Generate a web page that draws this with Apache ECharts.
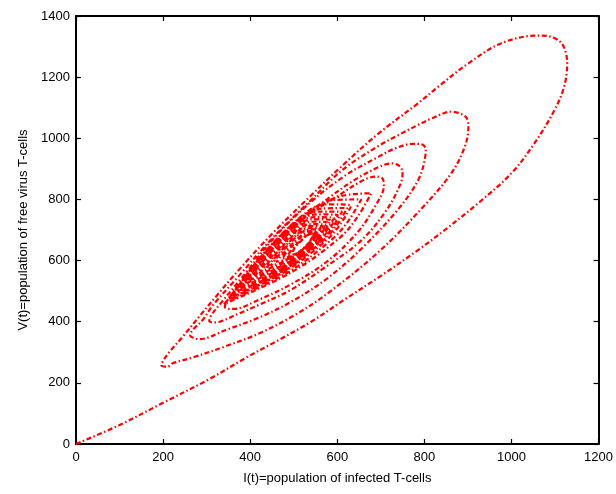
<!DOCTYPE html>
<html>
<head>
<meta charset="utf-8">
<script src="https://cdn.jsdelivr.net/npm/echarts@6/dist/echarts.min.js"></script>
<style>
html,body{margin:0;padding:0;background:#fff;}
#chart{width:616px;height:494px;}
</style>
</head>
<body>
<div id="chart"></div>
<script>
// Axis ticks
const xTicks = [0, 200, 400, 600, 800, 1000, 1200];
const yTicks = [0, 200, 400, 600, 800, 1000, 1200, 1400];

// Trajectory (I, V), loop by loop (counter-clockwise spiral)
const loop1 = [[0,0],[100,62],[200,135],[306,212],[395,286],[459,335],[540,400],[615,471],[700,550],[786,635],[847,700],[923,787],[1000,886],[1053,984],[1099,1093],[1121,1169],[1128,1245],[1118,1305],[1095,1330],[1061,1336],[977,1311],[901,1245],[832,1169],[786,1115],[695,1016],[615,915],[534,805],[452,690],[371,565],[320,480],[283,417],[245,351],[215,302],[200,272],[196,258]];
const loop2 = [[210,253],[222,264],[268,283],[344,320],[421,362],[500,420],[580,495],[700,635],[800,780],[862,886],[893,973],[901,1038],[895,1070],[862,1087],[817,1065],[786,1044],[741,1011],[695,975],[615,900],[534,790],[452,675],[371,545],[315,455],[291,406],[268,373],[262,356],[268,348]];
const loop3 = [[283,343],[344,373],[421,414],[500,470],[580,545],[660,645],[741,770],[786,864],[802,940],[803,965],[794,980],[775,982],[733,967],[695,940],[615,875],[534,785],[452,670],[390,560],[335,465],[310,420],[306,402],[315,398]];
const loop4 = [[330,400],[371,425],[420,455],[493,504],[574,580],[656,667],[713,765],[745,850],[750,888],[742,910],[725,918],[697,907],[640,864],[574,798],[493,705],[420,605],[365,505],[343,458],[342,447],[350,442]];
const loop5 = [[362,442],[420,472],[493,522],[574,594],[645,690],[690,785],[707,845],[704,868],[690,875],[656,860],[599,809],[525,740],[450,640],[400,548],[370,500]];
const loop6 = [[340,458],[494,561],[606,675],[646,742],[678,820],[606,810],[545,765],[441,632]];
const loop7 = [[344,464],[486,561],[590,672],[626,731],[655,800],[589,798],[534,758],[436,627]];
const loop8 = [[348,471],[478,562],[575,666],[607,719],[632,780],[572,784],[522,750],[431,624]];
const loop9 = [[353,478],[474,562],[565,662],[597,712],[623,772],[564,770],[516,741],[430,620]];
const loop10 = [[358,487],[471,563],[559,659],[587,704],[611,760],[557,760],[512,734],[430,617]];
const loop11 = [[364,496],[471,565],[553,656],[579,698],[601,749],[551,751],[510,726],[433,616]];
const loop12 = [[371,505],[471,567],[549,655],[572,692],[592,739],[546,742],[509,720],[436,614]];
const loop13 = [[379,515],[472,571],[545,654],[566,689],[585,732],[543,735],[508,714],[440,615]];
const loop14 = [[388,525],[475,576],[543,653],[562,685],[578,724],[539,727],[508,709],[445,616]];
const loop15 = [[398,536],[477,581],[540,654],[558,683],[572,718],[538,719],[510,702],[451,616]];
const loop16 = [[409,547],[481,586],[538,653],[555,680],[567,712],[535,713],[510,697],[457,619]];
const loop17 = [[421,558],[484,591],[537,654],[551,678],[562,707],[534,706],[513,692],[463,620]];
const loop18 = [[434,570],[488,600],[535,655],[548,677],[558,703],[533,701],[514,688],[470,624]];
const loop19 = [[447,583],[493,606],[535,655],[545,675],[554,699],[533,695],[517,682],[478,626]];
const loop20 = [[460,596],[498,612],[535,656],[543,674],[551,694],[533,690],[518,679],[485,630]];
const loop21 = [[474,607],[504,620],[534,657],[542,674],[549,692],[534,685],[521,674],[494,633]];
const loop22 = [[486,616],[511,626],[535,657],[541,674],[548,691],[534,684],[523,673],[501,639],[497,622]];

const trajectory = [].concat(loop1, loop2, loop3, loop4, loop5, loop6, loop7, loop8,
  loop9, loop10, loop11, loop12, loop13, loop14, loop15, loop16, loop17, loop18,
  loop19, loop20, loop21, loop22);

const FONT = 'Liberation Sans, Arial, Helvetica, sans-serif';
const axisLineStyle = { show: true, onZero: false, lineStyle: { color: '#000', width: 2 } };
const tickStyle = { show: true, inside: true, length: 5, lineStyle: { color: '#000', width: 1.2 } };
const plainLabel = v => String(v);

const chart = echarts.init(document.getElementById('chart'), null, { renderer: 'canvas' });
chart.setOption({
  animation: false,
  backgroundColor: '#fff',
  grid: { left: 76, right: 15, top: 16, bottom: 50, containLabel: false },
  xAxis: [
    {
      type: 'value', position: 'bottom',
      min: xTicks[0], max: xTicks[xTicks.length - 1], interval: xTicks[1] - xTicks[0],
      axisLine: axisLineStyle, axisTick: tickStyle, splitLine: { show: false },
      axisLabel: { color: '#000', fontSize: 13, fontFamily: FONT, margin: 7, formatter: plainLabel },
      name: 'I(t)=population of infected T-cells', nameLocation: 'middle', nameGap: 28,
      nameTextStyle: { color: '#000', fontSize: 13, fontFamily: FONT }
    },
    {
      type: 'value', position: 'top',
      min: xTicks[0], max: xTicks[xTicks.length - 1], interval: xTicks[1] - xTicks[0],
      axisLine: axisLineStyle, axisTick: tickStyle, splitLine: { show: false },
      axisLabel: { show: false }
    }
  ],
  yAxis: [
    {
      type: 'value', position: 'left',
      min: yTicks[0], max: yTicks[yTicks.length - 1], interval: yTicks[1] - yTicks[0],
      axisLine: axisLineStyle, axisTick: tickStyle, splitLine: { show: false },
      axisLabel: { color: '#000', fontSize: 13, fontFamily: FONT, margin: 6, formatter: plainLabel },
      name: 'V(t)=population of free virus T-cells', nameLocation: 'middle', nameGap: 45,
      nameRotate: 90,
      nameTextStyle: { color: '#000', fontSize: 13, fontFamily: FONT }
    },
    {
      type: 'value', position: 'right',
      min: yTicks[0], max: yTicks[yTicks.length - 1], interval: yTicks[1] - yTicks[0],
      axisLine: axisLineStyle, axisTick: tickStyle, splitLine: { show: false },
      axisLabel: { show: false }
    }
  ],
  series: [{
    type: 'line',
    xAxisIndex: 0, yAxisIndex: 0,
    data: trajectory,
    showSymbol: false, symbol: 'none',
    smooth: 0.35,
    clip: true,
    lineStyle: { color: '#ff0000', width: 2.2, type: [5, 2.5, 1.5, 2.5] }
  }]
});
</script>
</body>
</html>
